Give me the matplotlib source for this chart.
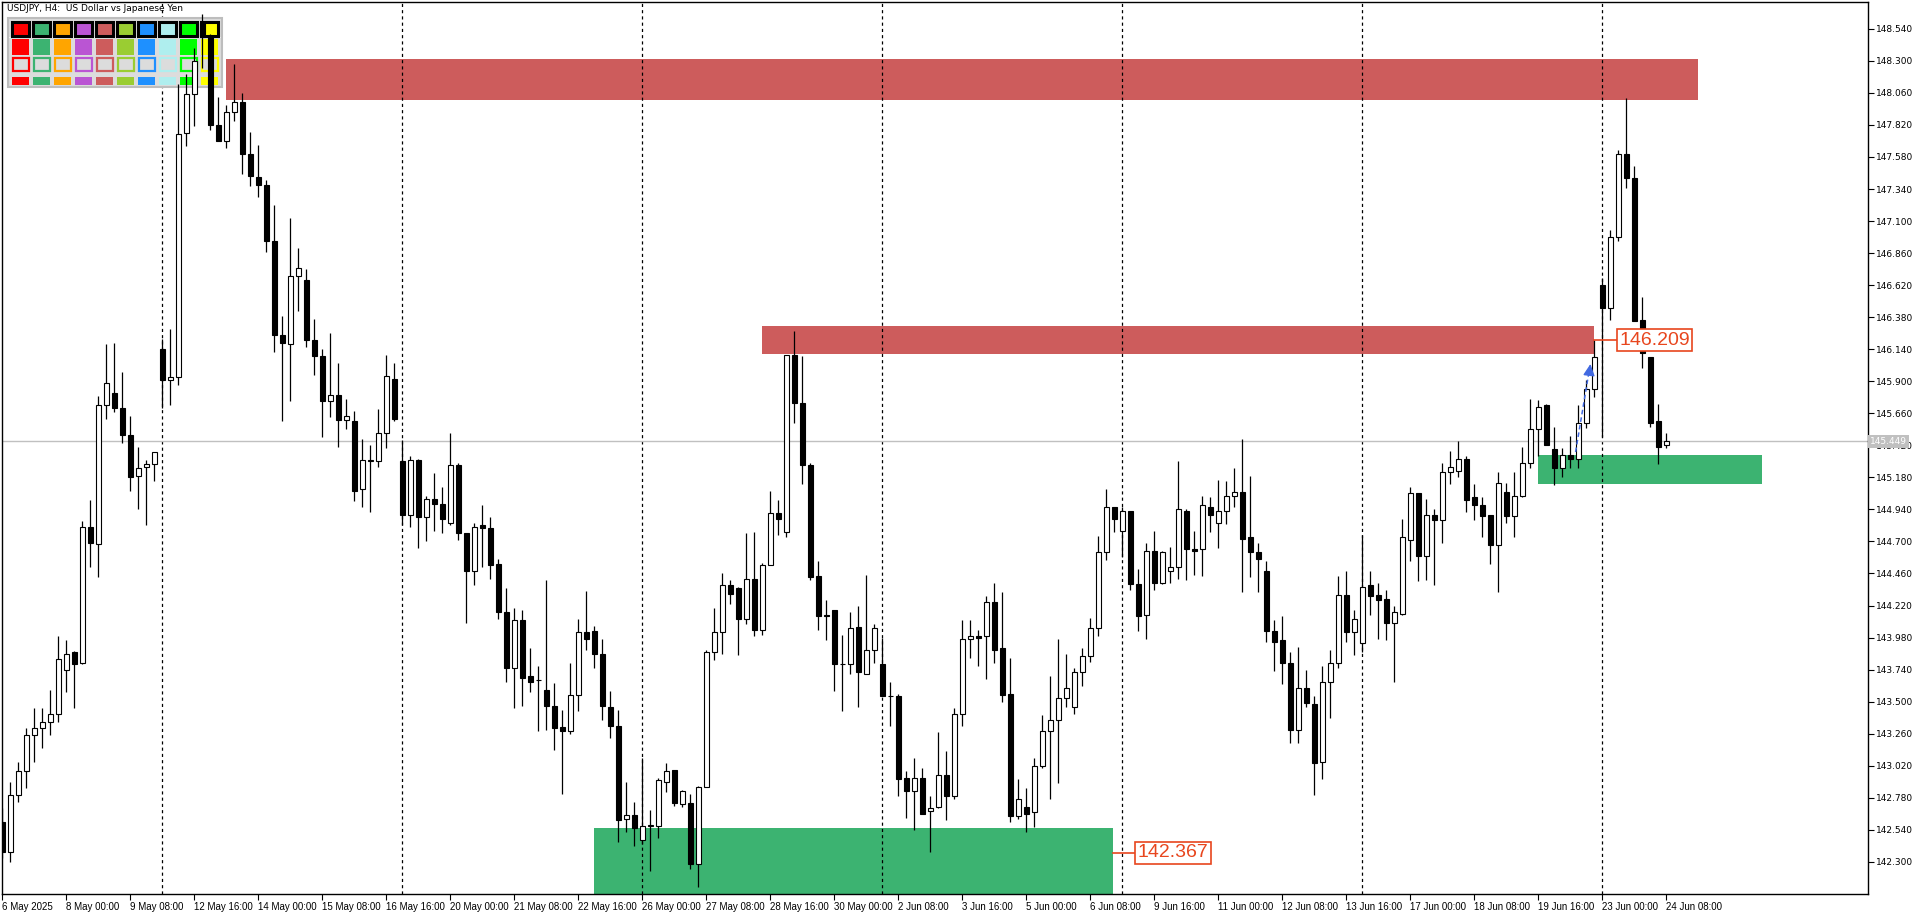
import numpy as np
import matplotlib.pyplot as plt
from matplotlib.patches import Rectangle
import matplotlib.transforms as mtransforms

plt.rcParams['font.family'] = ['DejaVu Sans']

# USDJPY H4 candles, bar 0 = 6 May 16:00 ... bar 208 = 24 Jun 08:00
opens = [142.60, 142.37, 142.80, 142.98, 143.25, 143.30, 143.35, 143.41, 143.74, 143.87,
         143.79, 144.81, 144.68, 145.72, 145.81, 145.70, 145.50, 145.19, 145.26, 145.28,
         146.14, 145.91, 145.93, 147.76, 148.05, 148.58, 148.48, 147.82, 147.70, 147.92,
         147.99, 147.60, 147.43, 147.37, 146.95, 146.25, 146.18, 146.69, 146.66, 146.21,
         146.09, 145.75, 145.80, 145.61, 145.60, 145.09, 145.30, 145.30, 145.51, 145.92,
         145.30, 144.90, 145.31, 144.88, 145.02, 144.98, 144.84, 145.27, 144.76, 144.48,
         144.82, 144.80, 144.53, 144.17, 143.75, 144.11, 143.69, 143.66, 143.59, 143.47,
         143.31, 143.28, 143.55, 144.02, 144.03, 143.86, 143.46, 143.32, 142.62, 142.65,
         142.46, 142.57, 142.57, 142.90, 142.99, 142.73, 142.74, 142.28, 142.86, 143.87,
         144.02, 144.37, 144.35, 144.12, 144.42, 144.04, 144.52, 144.91, 144.77, 146.10,
         145.74, 145.27, 144.44, 144.15, 144.19, 143.78, 143.78, 144.06, 143.71, 143.89,
         143.78, 143.54, 143.54, 142.93, 142.83, 142.93, 142.68, 142.71, 142.95, 142.79,
         143.41, 143.97, 143.99, 143.99, 144.25, 143.90, 143.56, 142.64, 142.71, 142.67,
         143.02, 143.28, 143.36, 143.53, 143.46, 143.72, 143.84, 144.05, 144.62, 144.96,
         144.78, 144.93, 144.38, 144.15, 144.63, 144.39, 144.48, 144.51, 144.93, 144.64,
         144.64, 144.96, 144.84, 144.93, 145.04, 145.07, 144.73, 144.62, 144.48, 144.03,
         143.96, 143.79, 143.29, 143.60, 143.48, 143.05, 143.65, 143.79, 144.30, 144.02,
         143.94, 144.37, 144.30, 144.27, 144.09, 144.16, 144.71, 145.06, 144.59, 144.90,
         144.86, 145.22, 145.23, 145.32, 145.03, 144.97, 144.90, 144.67, 145.07, 144.89,
         145.04, 145.29, 145.54, 145.72, 145.39, 145.25, 145.35, 145.32, 145.59, 145.84,
         146.62, 146.45, 146.98, 147.60, 147.42, 146.36, 146.08, 145.60, 145.42]
highs = [142.70, 142.90, 143.05, 143.30, 143.45, 143.45, 143.59, 143.99, 143.96, 143.88,
         144.85, 145.01, 145.79, 146.18, 146.19, 145.97, 145.64, 145.41, 145.31, 145.37,
         146.22, 146.29, 148.13, 148.20, 148.40, 148.65, 148.50, 148.03, 147.97, 148.28,
         148.06, 147.77, 147.67, 147.41, 147.22, 146.39, 147.12, 146.90, 146.74, 146.37,
         146.14, 146.26, 146.04, 145.77, 145.68, 145.47, 145.42, 145.69, 146.10, 146.04,
         145.46, 145.34, 145.32, 145.04, 145.21, 145.11, 145.51, 145.29, 144.76, 144.84,
         144.97, 144.88, 144.57, 144.35, 144.20, 144.19, 143.90, 143.77, 144.41, 143.64,
         143.44, 143.79, 144.12, 144.33, 144.07, 143.97, 143.58, 143.44, 142.90, 142.75,
         143.08, 142.69, 142.93, 143.04, 142.99, 142.84, 142.81, 142.87, 143.89, 144.20,
         144.46, 144.41, 144.36, 144.76, 144.77, 144.54, 145.08, 145.01, 146.10, 146.28,
         146.09, 145.29, 144.55, 144.26, 144.19, 144.00, 144.17, 144.22, 144.45, 144.08,
         143.98, 143.65, 143.56, 142.98, 143.08, 143.00, 142.79, 143.27, 143.13, 143.45,
         144.11, 144.11, 144.04, 144.29, 144.39, 144.32, 143.83, 142.92, 142.85, 143.08,
         143.40, 143.69, 143.97, 143.86, 143.75, 143.90, 144.13, 144.74, 145.09, 144.96,
         144.96, 144.93, 144.49, 144.69, 144.78, 144.63, 144.66, 145.30, 144.94, 144.78,
         145.04, 145.03, 145.16, 145.15, 145.25, 145.47, 145.19, 144.69, 144.55, 144.11,
         144.14, 143.87, 143.91, 143.74, 143.54, 143.77, 143.89, 144.44, 144.48, 144.19,
         144.75, 144.48, 144.39, 144.34, 144.22, 144.87, 145.11, 145.06, 145.02, 144.94,
         145.29, 145.38, 145.45, 145.34, 145.13, 145.03, 144.90, 145.22, 145.14, 145.22,
         145.41, 145.77, 145.76, 145.73, 145.56, 145.40, 145.49, 145.72, 145.91, 146.21,
         146.67, 147.03, 147.63, 148.02, 147.51, 146.53, 146.08, 145.73, 145.51]
lows = [142.33, 142.30, 142.75, 142.85, 143.05, 143.15, 143.25, 143.35, 143.57, 143.45,
        143.78, 144.51, 144.43, 145.62, 145.67, 145.44, 145.08, 144.94, 144.82, 145.15,
        145.70, 145.72, 145.87, 147.66, 147.81, 148.25, 147.78, 147.70, 147.65, 147.85,
        147.45, 147.36, 147.28, 146.87, 146.12, 145.60, 145.75, 146.43, 146.16, 145.95,
        145.48, 145.63, 145.41, 145.54, 145.00, 144.96, 144.92, 145.26, 145.40, 145.60,
        144.82, 144.81, 144.65, 144.70, 144.78, 144.76, 144.82, 144.71, 144.09, 144.37,
        144.51, 144.42, 144.12, 143.65, 143.45, 143.47, 143.57, 143.28, 143.29, 143.14,
        142.81, 143.26, 143.43, 143.89, 143.75, 143.36, 143.23, 142.45, 142.52, 142.42,
        142.43, 142.23, 142.48, 142.82, 142.72, 142.71, 142.25, 142.11, 142.86, 143.81,
        143.86, 144.23, 143.85, 144.08, 143.99, 144.00, 144.52, 144.75, 144.73, 145.59,
        145.13, 144.41, 144.04, 143.96, 143.58, 143.43, 143.71, 143.46, 143.71, 143.79,
        143.54, 143.32, 142.79, 142.63, 142.54, 142.66, 142.37, 142.70, 142.61, 142.77,
        143.32, 143.83, 143.77, 143.67, 143.79, 143.50, 142.60, 142.62, 142.52, 142.56,
        143.00, 142.77, 142.89, 143.46, 143.41, 143.62, 143.80, 143.99, 144.56, 144.77,
        144.58, 144.34, 144.03, 143.97, 144.34, 144.38, 144.39, 144.42, 144.41, 144.45,
        144.44, 144.77, 144.65, 144.83, 144.96, 144.32, 144.43, 144.32, 143.95, 143.73,
        143.63, 143.19, 143.19, 143.46, 142.80, 142.92, 143.38, 143.75, 143.95, 143.85,
        143.87, 144.15, 143.97, 143.96, 143.65, 144.15, 144.55, 144.40, 144.41, 144.37,
        144.69, 145.13, 145.18, 144.92, 144.86, 144.73, 144.53, 144.32, 144.84, 144.73,
        145.03, 145.25, 145.34, 145.42, 145.12, 145.18, 145.25, 145.25, 145.55, 145.78,
        145.48, 146.36, 146.95, 147.35, 146.35, 146.00, 145.56, 145.28, 145.40]
closes = [142.37, 142.80, 142.98, 143.25, 143.30, 143.35, 143.41, 143.82, 143.86, 143.78,
          144.81, 144.69, 145.72, 145.89, 145.70, 145.50, 145.18, 145.25, 145.28, 145.37,
          145.91, 145.93, 147.75, 148.05, 148.30, 148.48, 147.82, 147.70, 147.92, 147.99,
          147.60, 147.44, 147.37, 146.95, 146.25, 146.19, 146.69, 146.75, 146.21, 146.09,
          145.75, 145.80, 145.61, 145.64, 145.08, 145.31, 145.31, 145.51, 145.94, 145.62,
          144.90, 145.31, 144.88, 145.02, 144.98, 144.87, 145.27, 144.76, 144.48, 144.81,
          144.80, 144.52, 144.17, 143.75, 144.11, 143.68, 143.65, 143.66, 143.47, 143.30,
          143.28, 143.55, 144.02, 143.97, 143.86, 143.47, 143.32, 142.61, 142.65, 142.55,
          142.57, 142.57, 142.91, 142.98, 142.74, 142.83, 142.28, 142.86, 143.87, 144.02,
          144.37, 144.31, 144.12, 144.42, 144.04, 144.52, 144.91, 144.87, 146.10, 145.74,
          145.27, 144.43, 144.14, 144.14, 143.78, 143.78, 144.05, 143.72, 143.89, 144.05,
          143.54, 143.54, 142.92, 142.83, 142.93, 142.66, 142.70, 142.95, 142.79, 143.41,
          143.97, 143.99, 143.98, 144.25, 143.89, 143.55, 142.64, 142.77, 142.66, 143.02,
          143.28, 143.36, 143.53, 143.60, 143.72, 143.84, 144.05, 144.62, 144.96, 144.87,
          144.93, 144.38, 144.14, 144.63, 144.39, 144.62, 144.51, 144.94, 144.64, 144.63,
          144.97, 144.90, 144.93, 145.04, 145.07, 144.72, 144.62, 144.57, 144.03, 143.95,
          143.79, 143.29, 143.60, 143.49, 143.04, 143.65, 143.79, 144.30, 144.02, 144.12,
          144.36, 144.29, 144.26, 144.09, 144.17, 144.73, 145.06, 144.59, 144.90, 144.86,
          145.22, 145.26, 145.32, 145.01, 144.97, 144.89, 144.67, 145.14, 144.89, 145.04,
          145.29, 145.54, 145.71, 145.42, 145.25, 145.35, 145.32, 145.59, 145.84, 146.08,
          146.45, 146.98, 147.60, 147.42, 146.35, 146.11, 145.59, 145.41, 145.449]

date_labels = ['6 May 2025', '8 May 00:00', '9 May 08:00', '12 May 16:00', '14 May 00:00',
               '15 May 08:00', '16 May 16:00', '20 May 00:00', '21 May 08:00', '22 May 16:00',
               '26 May 00:00', '27 May 08:00', '28 May 16:00', '30 May 00:00', '2 Jun 08:00',
               '3 Jun 16:00', '5 Jun 00:00', '6 Jun 08:00', '9 Jun 16:00', '11 Jun 00:00',
               '12 Jun 08:00', '13 Jun 16:00', '17 Jun 00:00', '18 Jun 08:00', '19 Jun 16:00',
               '23 Jun 00:00', '24 Jun 08:00']
week_starts = [20, 50, 80, 110, 140, 170, 200]

# supply / demand zones: start bar, end bar, low, high
red_zones = [(28, 212, 148.007, 148.314), (95, 199, 146.104, 146.314)]
green_zones = [(74, 138.8, 141.9, 142.554), (192, 220, 145.131, 145.348)]
level_labels = [(199, 146.209), (138.8, 142.367)]
last_price = 145.449

panel_colors = ['#FF0000', '#3CB371', '#FFA500', '#BA55D3', '#CD5C5C',
                '#9ACD32', '#1E90FF', '#AFEEEE', '#00FF00', '#FFFF00']

W, H = 1920, 915
fig = plt.figure(figsize=(W / 100, H / 100), dpi=100)
L, R, T, B = 2, 1868, 2, 894
ax = fig.add_axes([L / W, (H - B) / H, (R - L) / W, (B - T) / H])
ax.set_xlim(-0.04, 233.2)
ax.set_ylim(142.059, 148.741)

n = len(opens)
x = np.arange(n)

# zones
for x0, x1, lo, hi in red_zones:
    ax.add_patch(Rectangle((x0, lo), x1 - x0, hi - lo, facecolor='#CD5C5C', edgecolor='none', zorder=1))
for x0, x1, lo, hi in green_zones:
    ax.add_patch(Rectangle((x0, lo), x1 - x0, hi - lo, facecolor='#3CB371', edgecolor='none', zorder=1))

# week separators and last price line
for w in week_starts:
    ax.axvline(w, color='black', lw=0.9, ls=(0, (2.5, 2.5)), zorder=1.5)
ax.axhline(last_price, color='#C0C0C0', lw=1, zorder=1.5)

# control panel in pixel coordinates (top-left)
def px_rect(px, py, pw, ph, **kw):
    fx = (px - L) / (R - L)
    fy = (B - py - ph) / (B - T)
    return Rectangle((fx, fy), pw / (R - L), ph / (B - T), transform=ax.transAxes, **kw)

ax.add_patch(px_rect(8, 18, 214, 69, facecolor='#DCDCDC', edgecolor='#BDBDBD', lw=1.5, zorder=2))
ax.add_patch(px_rect(9, 37, 212, 1, facecolor='#F2F2F2', edgecolor='none', zorder=2))
for j, col in enumerate(panel_colors):
    cx = 12 + 21 * j
    ax.add_patch(px_rect(cx, 22, 17, 14, facecolor=col, edgecolor='black', lw=2.2, zorder=2.1))
    ax.add_patch(px_rect(cx, 39, 17, 16, facecolor=col, edgecolor='none', zorder=2.1))
    ax.add_patch(px_rect(cx + 0.5, 58.5, 16, 13, facecolor='#DCDCDC', edgecolor=col, lw=1.6, zorder=2.1))
    ax.add_patch(px_rect(cx, 77, 17, 8, facecolor=col, edgecolor='none', zorder=2.1))

ax.text(5 / (R - L), 1 - 7 / (B - T), 'USDJPY, H4:  US Dollar vs Japanese Yen', transform=ax.transAxes,
        fontsize=6.5, ha='left', va='center', color='black', zorder=6)

# candles
o = np.array(opens)
c = np.array(closes)
h = np.array(highs)
lo_ = np.array(lows)
ax.vlines(x, lo_, h, color='black', lw=0.9, zorder=3)
up = c >= o
body_lo = np.minimum(o, c)
body_h = np.maximum(np.abs(c - o), 0.004)
ax.bar(x[up], body_h[up], bottom=body_lo[up], width=0.62, facecolor='white',
       edgecolor='black', lw=0.8, zorder=4)
ax.bar(x[~up], body_h[~up], bottom=body_lo[~up], width=0.62, facecolor='black',
       edgecolor='black', lw=0.8, zorder=4)

# blue arrow
ax.plot([196.65, 198.35], [145.37, 145.98], color='#4169E1', lw=1.1, ls=(0, (3, 2)), zorder=5)
ax.annotate('', xy=(198.55, 146.05), xytext=(198.3, 145.93),
            arrowprops=dict(arrowstyle='-|>,head_length=0.7,head_width=0.35', color='#4169E1', lw=1), zorder=5)

# level labels
lab_col = '#E8461E'
for xs, lvl in level_labels:
    ax.plot([xs, xs + 2.9], [lvl, lvl], color=lab_col, lw=1.2, zorder=5)
    ax.text(xs + 3.1, lvl, f'{lvl:.3f}', color=lab_col, fontsize=14, family='Liberation Sans',
            ha='left', va='center', zorder=6,
            bbox=dict(boxstyle='square,pad=0.12', facecolor='white', edgecolor=lab_col, lw=1.2))

# axes styling
for s in ax.spines.values():
    s.set_color('black')
    s.set_linewidth(1)
ax.yaxis.tick_right()
yt = np.round(np.arange(142.30, 148.55, 0.24), 2)
ax.set_yticks(yt)
ax.set_yticklabels([f'{v:.3f}' for v in yt], fontsize=6.5)
ax.tick_params(axis='y', direction='out', length=4, width=0.8, pad=2, colors='black')
ax.set_xticks(np.arange(0, 8 * len(date_labels), 8))
ax.set_xticklabels(date_labels, fontsize=7, ha='left', family='Liberation Sans')
ax.tick_params(axis='x', direction='out', length=4, width=0.8, pad=2)

trans = mtransforms.blended_transform_factory(ax.transAxes, ax.transData)
ax.text(1.0012, last_price, f'{last_price:.3f}', transform=trans, fontsize=6.5, color='white',
        ha='left', va='center', zorder=7,
        bbox=dict(boxstyle='square,pad=0.25', facecolor='#C0C0C0', edgecolor='none'))

fig.savefig('out.png', dpi=100, facecolor='white')
